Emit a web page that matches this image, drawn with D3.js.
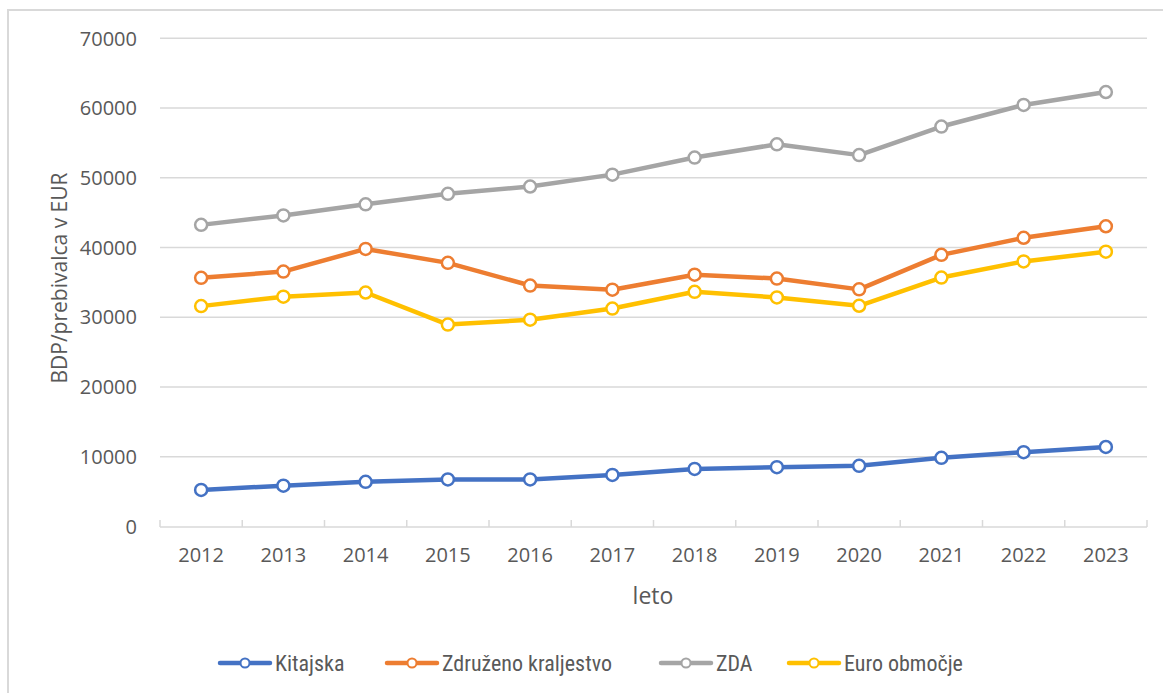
<!DOCTYPE html>
<html><head><meta charset="utf-8">
<script src="https://cdn.jsdelivr.net/npm/d3@7"></script>
<style>body{margin:0;background:#fff}svg{display:block}</style>
</head><body>
<script>
const years = ["2012","2013","2014","2015","2016","2017","2018","2019","2020","2021","2022","2023"];
const kitajska = [5250,5850,6400,6750,6750,7400,8250,8500,8700,9850,10650,11400];
const zdruzeno = [35650,36550,39800,37800,34550,33950,36100,35550,34000,38950,41400,43050];
const zda = [43250,44600,46200,47700,48750,50450,52900,54800,53250,57350,60450,62300];
const euro = [31600,32950,33550,28950,29650,31250,33650,32850,31650,35700,38000,39400];
const yTicks = [0,10000,20000,30000,40000,50000,60000,70000];
const seriesNames = ["Kitajska","Združeno kraljestvo","ZDA","Euro območje"];
const colors = ["#4472C4","#ED7D31","#A5A5A5","#FFC000"];
const allSeries = [kitajska, zdruzeno, zda, euro];

const W = 1163, H = 693;
const svg = d3.select("body").append("svg").attr("width", W).attr("height", H);
svg.append("rect").attr("x",8).attr("y",10).attr("width",W+10).attr("height",H+10)
  .attr("fill","#fff").attr("stroke","#d9d9d9").attr("stroke-width",2);

const x = d3.scaleBand().domain(years).range([160,1147]);
const y = d3.scaleLinear().domain([0,70000]).range([526.5,38.3]);
const font = "'Segoe UI','Open Sans',sans-serif";
const txt = "#595959";

// gridlines
svg.append("g").selectAll("line").data(yTicks.filter(d=>d>0)).join("line")
  .attr("x1",160).attr("x2",1147).attr("y1",d=>y(d)).attr("y2",d=>y(d))
  .attr("stroke","#d9d9d9").attr("stroke-width",1.5);

// y axis labels
svg.append("g").selectAll("text").data(yTicks).join("text")
  .attr("x",137).attr("y",d=>y(d)).attr("dy","0.36em").attr("text-anchor","end")
  .attr("font-family",font).attr("font-size",20).attr("fill",txt).text(d=>d);

// x axis
const xa = svg.append("g").attr("transform","translate(0,527)")
  .call(d3.axisBottom(x).tickSize(0).tickPadding(21));
xa.select(".domain").remove();
xa.selectAll("text").attr("font-family",font).attr("font-size",20).attr("fill",txt);
svg.append("line").attr("x1",160).attr("x2",1147).attr("y1",527).attr("y2",527)
  .attr("stroke","#d9d9d9").attr("stroke-width",1.5);
const bounds = years.map(d=>x(d)).concat([x(years[years.length-1])+x.bandwidth()]);
svg.append("g").selectAll("line").data(bounds).join("line")
  .attr("x1",d=>d).attr("x2",d=>d).attr("y1",527).attr("y2",520)
  .attr("stroke","#d9d9d9").attr("stroke-width",1.5);

// axis titles
svg.append("text").attr("x",653).attr("y",596).attr("dy","0.36em").attr("text-anchor","middle")
  .attr("font-family",font).attr("font-size",23).attr("fill",txt).text("leto");
svg.append("text").attr("transform","translate(67,278) rotate(-90)").attr("text-anchor","middle")
  .attr("font-family",font).attr("font-size",21).attr("fill",txt).text("BDP/prebivalca v EUR");

// lines
const line = d3.line().x((d,i)=>x(years[i])+x.bandwidth()/2).y(d=>y(d));
allSeries.forEach((s,k)=>{
  const g = svg.append("g");
  g.append("path").datum(s).attr("d",line).attr("fill","none")
    .attr("stroke",colors[k]).attr("stroke-width",4.5).attr("stroke-linejoin","round");
  g.selectAll("circle").data(s).join("circle")
    .attr("cx",(d,i)=>x(years[i])+x.bandwidth()/2).attr("cy",d=>y(d)).attr("r",6)
    .attr("fill","#fff").attr("stroke",colors[k]).attr("stroke-width",2.5);
});

// legend
const legX = [218,385,659,787];
const lg = svg.append("g");
seriesNames.forEach((n,k)=>{
  const gx = legX[k], gy = 663;
  lg.append("line").attr("x1",gx+2).attr("x2",gx+52).attr("y1",gy).attr("y2",gy)
    .attr("stroke",colors[k]).attr("stroke-width",4.5).attr("stroke-linecap","round");
  lg.append("circle").attr("cx",gx+27).attr("cy",gy).attr("r",4.5)
    .attr("fill","#fff").attr("stroke",colors[k]).attr("stroke-width",2);
  lg.append("text").attr("x",gx+57).attr("y",gy).attr("dy","0.36em")
    .attr("font-family","'Liberation Sans Narrow','Roboto Condensed',Lato,sans-serif")
    .attr("font-size",22).attr("fill",txt).text(n);
});
</script>
</body></html>
